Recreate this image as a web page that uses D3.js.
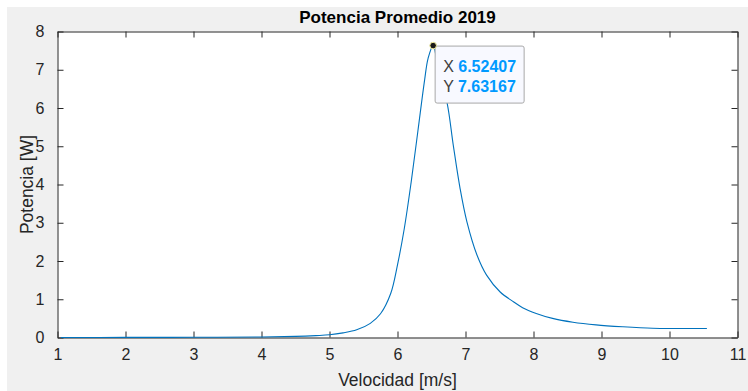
<!DOCTYPE html>
<html>
<head>
<meta charset="utf-8">
<script src="https://cdn.jsdelivr.net/npm/d3@7"></script>
<style>
  html, body { margin: 0; padding: 0; background: #ffffff; }
  svg { display: block; }
  text { font-family: "Liberation Sans", Arial, Helvetica, sans-serif; }
</style>
</head>
<body>
<svg id="chart" width="748" height="391"></svg>
<script>
// ---- data ----
const velocidad = [1.05, 2, 3, 4, 4.5, 4.8, 5.0, 5.2, 5.4, 5.6, 5.75, 5.9, 6.0, 6.1, 6.2, 6.3, 6.4, 6.45, 6.52407,
  6.6, 6.73, 6.82, 6.92, 7.02, 7.17, 7.31, 7.51, 7.71, 7.84, 8.04, 8.28, 8.58, 8.92, 9.31, 9.75, 10.15, 10.55];
const potencia = [0.0, 0.002, 0.005, 0.015, 0.03, 0.05, 0.07, 0.12, 0.2, 0.37, 0.62, 1.15, 1.9, 2.85, 4.05, 5.4, 6.75, 7.3, 7.63167,
  7.0, 6.13, 5.03, 3.9, 3.03, 2.15, 1.63, 1.19, 0.93, 0.78, 0.63, 0.5, 0.4, 0.33, 0.28, 0.24, 0.235, 0.235];
const xTicks = [1, 2, 3, 4, 5, 6, 7, 8, 9, 10, 11];
const yTicks = [0, 1, 2, 3, 4, 5, 6, 7, 8];
const titleText = "Potencia Promedio 2019";
const xLabel = "Velocidad [m/s]";
const yLabel = "Potencia [W]";
const tipX = "6.52407";
const tipY = "7.63167";
const peakIndex = 18;

// ---- layout ----
const svg = d3.select("#chart");
const W = 748, H = 391;
const m = { left: 57.5, right: 737.5, top: 31.5, bottom: 337.5 };

svg.append("rect").attr("x", 7).attr("y", 7).attr("width", W - 7).attr("height", H - 7).attr("fill", "#f0f0f0");

const x = d3.scaleLinear().domain([1, 11]).range([m.left, m.right]);
const y = d3.scaleLinear().domain([0, 8]).range([m.bottom, m.top]);

svg.append("rect").attr("x", m.left).attr("y", m.top)
  .attr("width", m.right - m.left).attr("height", m.bottom - m.top).attr("fill", "#ffffff");

const axColor = "#262626";
const tickLen = 6;

function styleAxis(g, showText) {
  g.select(".domain").attr("stroke", axColor).attr("stroke-width", 1);
  g.selectAll(".tick line").attr("stroke", axColor).attr("stroke-width", 1);
  g.selectAll(".tick text").attr("fill", axColor).attr("font-size", 16)
    .attr("font-family", '"Liberation Sans", Arial, sans-serif');
  if (!showText) g.selectAll(".tick text").remove();
}

// bottom
svg.append("g").attr("transform", `translate(0,${m.bottom})`)
  .call(d3.axisBottom(x).tickValues(xTicks).tickFormat(d3.format("d")).tickSizeInner(-tickLen).tickSizeOuter(0).tickPadding(11))
  .call(g => styleAxis(g, true));
// top
svg.append("g").attr("transform", `translate(0,${m.top})`)
  .call(d3.axisTop(x).tickValues(xTicks).tickSizeInner(-tickLen).tickSizeOuter(0))
  .call(g => styleAxis(g, false));
// left
svg.append("g").attr("transform", `translate(${m.left},0)`)
  .call(d3.axisLeft(y).tickValues(yTicks).tickFormat(d3.format("d")).tickSizeInner(-tickLen).tickSizeOuter(0).tickPadding(13))
  .call(g => styleAxis(g, true));
// right
svg.append("g").attr("transform", `translate(${m.right},0)`)
  .call(d3.axisRight(y).tickValues(yTicks).tickSizeInner(-tickLen).tickSizeOuter(0))
  .call(g => styleAxis(g, false));

// line
const pts = velocidad.map((v, i) => [v, potencia[i]]);
const line = d3.line().x(d => x(d[0])).y(d => y(d[1])).curve(d3.curveCatmullRom.alpha(0.5));
svg.append("path").datum(pts).attr("d", line)
  .attr("fill", "none").attr("stroke", "#0072bd").attr("stroke-width", 1.1);

// title & labels
svg.append("text").attr("x", (m.left + m.right) / 2).attr("y", 23)
  .attr("text-anchor", "middle").attr("font-weight", "bold").attr("font-size", 17)
  .attr("fill", "#000").text(titleText);
svg.append("text").attr("x", (m.left + m.right) / 2).attr("y", 386)
  .attr("text-anchor", "middle").attr("font-size", 17.5).attr("fill", axColor).text(xLabel);
svg.append("text").attr("transform", `translate(33,${(m.top + m.bottom) / 2}) rotate(-90)`)
  .attr("text-anchor", "middle").attr("font-size", 17.5).attr("fill", axColor).text(yLabel);

// datatip
const px = x(velocidad[peakIndex]), py = y(potencia[peakIndex]);
const tip = svg.append("g");
tip.append("rect").attr("x", px + 2).attr("y", py + 0.5).attr("width", 89).attr("height", 57)
  .attr("rx", 2).attr("fill", "#f8f9ff").attr("stroke", "#a8a8a8").attr("stroke-width", 1);
const row = (lbl, val, yy) => {
  const t = tip.append("text").attr("x", px + 10).attr("y", yy).attr("font-size", 16);
  t.append("tspan").attr("fill", "#404040").text(lbl + " ");
  t.append("tspan").attr("fill", "#0099ff").attr("font-weight", "bold").text(val);
};
row("X", tipX, py + 26.5);
row("Y", tipY, py + 46.5);
svg.append("circle").attr("cx", px).attr("cy", py).attr("r", 3.3)
  .attr("fill", "#1a1a1a").attr("stroke", "#f5f0a0").attr("stroke-width", 1);
</script>
</body>
</html>
